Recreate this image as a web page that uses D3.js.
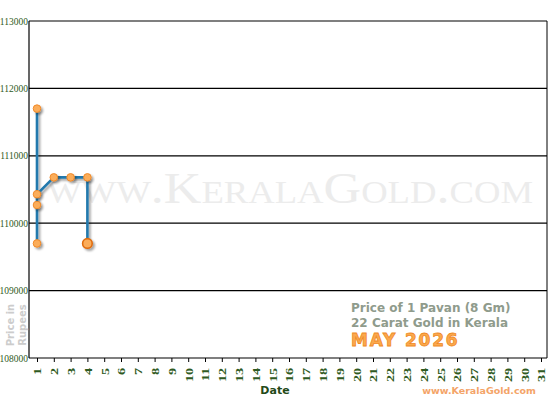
<!DOCTYPE html>
<html>
<head>
<meta charset="utf-8">
<script src="https://cdn.jsdelivr.net/npm/d3@7"></script>
<style>
  body { margin: 0; background: #fff; }
  svg { display: block; }
</style>
</head>
<body>
<div id="chart-area"></div>
<script>
// price changes in order; several changes can fall on the same date
const days = [1, 1, 1, 1, 2, 3, 4, 4];
const prices = [111700, 109700, 110270, 110430, 110680, 110680, 110680, 109700];
const dateTicks = d3.range(1, 32);
const priceTicks = [108000, 109000, 110000, 111000, 112000, 113000];

const data = days.map((d, i) => ({ day: d, price: prices[i] }));

const margin = { top: 21, right: 3, bottom: 42, left: 29 },
    width  = 550 - margin.left - margin.right,
    height = 400 - margin.top - margin.bottom;

const root = d3.select('#chart-area')
    .append('svg')
    .attr('width', 550)
    .attr('height', 400);

const defs = root.append('defs');
const shadow = defs.append('filter')
    .attr('id', 'shadow')
    .attr('x', '-50%').attr('y', '-50%')
    .attr('width', '200%').attr('height', '200%');
shadow.append('feDropShadow')
    .attr('dx', 2).attr('dy', 2)
    .attr('stdDeviation', 1.2)
    .attr('flood-color', '#000')
    .attr('flood-opacity', 0.35);

const svg = root.append('g')
    .attr('transform', `translate(${margin.left},${margin.top})`);

const x = d3.scaleLinear()
    .domain([1, 31])
    .range([8, 512]);

const y = d3.scaleLinear()
    .domain([108000, 113000])
    .range([height, 0]);

// watermark
svg.append('text')
    .attr('x', 18)
    .attr('y', 182)
    .attr('font-family', 'Liberation Serif, serif')
    .attr('font-size', 44)
    .attr('font-variant', 'small-caps')
    .attr('textLength', 486)
    .attr('lengthAdjust', 'spacingAndGlyphs')
    .attr('fill', '#ececec')
    .text('www.KeralaGold.com');

// horizontal grid
svg.append('g')
    .selectAll('line')
    .data(priceTicks)
    .enter()
    .append('line')
    .attr('x1', 0)
    .attr('x2', width)
    .attr('y1', d => y(d))
    .attr('y2', d => y(d))
    .attr('stroke', '#000')
    .attr('stroke-width', 1.2);

// left and right borders
svg.append('line')
    .attr('x1', 0).attr('x2', 0)
    .attr('y1', 0).attr('y2', height)
    .attr('stroke', '#000').attr('stroke-width', 1.2);
svg.append('line')
    .attr('x1', width).attr('x2', width)
    .attr('y1', 0).attr('y2', height)
    .attr('stroke', '#000').attr('stroke-width', 1);

// y axis labels
const yAxis = svg.append('g')
    .call(d3.axisLeft(y).tickValues(priceTicks).tickSize(0).tickPadding(1).tickFormat(d3.format('d')));
yAxis.select('.domain').remove();
yAxis.selectAll('text')
    .attr('font-family', 'Liberation Serif, serif')
    .attr('font-size', 9.5)
    .attr('fill', '#2f5a22');

// x axis
const xAxis = svg.append('g')
    .attr('transform', `translate(0, ${height})`)
    .call(d3.axisBottom(x).tickValues(dateTicks).tickSize(4).tickSizeOuter(0).tickFormat(d3.format('d')));
xAxis.select('.domain').remove();
xAxis.selectAll('line').attr('stroke', '#000');
xAxis.selectAll('text')
    .attr('transform', 'rotate(-90) scale(1.3,1)')
    .attr('text-anchor', 'end')
    .attr('x', -7.5)
    .attr('y', 0)
    .attr('dy', '0.35em')
    .attr('font-family', 'Liberation Serif, serif')
    .attr('font-weight', 'bold')
    .attr('font-size', 11)
    .attr('fill', '#2f5a22');

// price line
const line = d3.line()
    .x(d => x(d.day))
    .y(d => y(d.price));

svg.append('path')
    .datum(data)
    .attr('d', line)
    .attr('fill', 'none')
    .attr('stroke', '#2479ad')
    .attr('stroke-width', 2.6)
    .attr('stroke-linejoin', 'round')
    .attr('filter', 'url(#shadow)');

svg.selectAll('.dot')
    .data(data)
    .enter()
    .append('circle')
    .attr('class', 'dot')
    .attr('cx', d => x(d.day))
    .attr('cy', d => y(d.price))
    .attr('r', (d, i) => i === data.length - 1 ? 4.8 : 3.8)
    .attr('fill', '#fbad5a')
    .attr('stroke', (d, i) => i === data.length - 1 ? '#e06d10' : '#f08a2a')
    .attr('stroke-width', (d, i) => i === data.length - 1 ? 1.6 : 1)
    .attr('filter', 'url(#shadow)');

// axis titles
svg.append('text')
    .attr('x', width / 2 - 13)
    .attr('y', height + 36)
    .attr('text-anchor', 'middle')
    .attr('font-family', 'DejaVu Sans, sans-serif')
    .attr('font-weight', 'bold')
    .attr('font-size', 11)
    .attr('fill', '#234a18')
    .text('Date');

const yTitle = root.append('text')
    .attr('transform', 'translate(0, 325) rotate(-90)')
    .attr('text-anchor', 'middle')
    .attr('font-family', 'DejaVu Sans, sans-serif')
    .attr('font-weight', 'bold')
    .attr('font-size', 10)
    .attr('fill', '#cccccc');
yTitle.append('tspan').attr('x', 0).attr('y', 14).text('Price in');
yTitle.append('tspan').attr('x', 0).attr('y', 26).text('Rupees');

// caption block
const caption = root.append('g')
    .attr('font-family', 'DejaVu Sans, sans-serif')
    .attr('font-weight', 'bold');
caption.append('text')
    .attr('x', 351).attr('y', 312)
    .attr('font-size', 12)
    .attr('fill', '#8f9b8c')
    .text('Price of 1 Pavan (8 Gm)');
caption.append('text')
    .attr('x', 351).attr('y', 327)
    .attr('font-size', 12)
    .attr('fill', '#8f9b8c')
    .text('22 Carat Gold in Kerala');
caption.append('text')
    .attr('x', 351).attr('y', 346)
    .attr('font-size', 17)
    .attr('letter-spacing', 1.8)
    .attr('fill', '#fba94e')
    .attr('stroke', '#ef8a25')
    .attr('stroke-width', 0.8)
    .text('MAY 2026');

root.append('text')
    .attr('x', 536).attr('y', 394)
    .attr('text-anchor', 'end')
    .attr('font-family', 'DejaVu Sans, sans-serif')
    .attr('font-weight', 'bold')
    .attr('font-size', 9.5)
    .attr('fill', '#f4a468')
    .text('www.KeralaGold.com');
</script>
</body>
</html>
